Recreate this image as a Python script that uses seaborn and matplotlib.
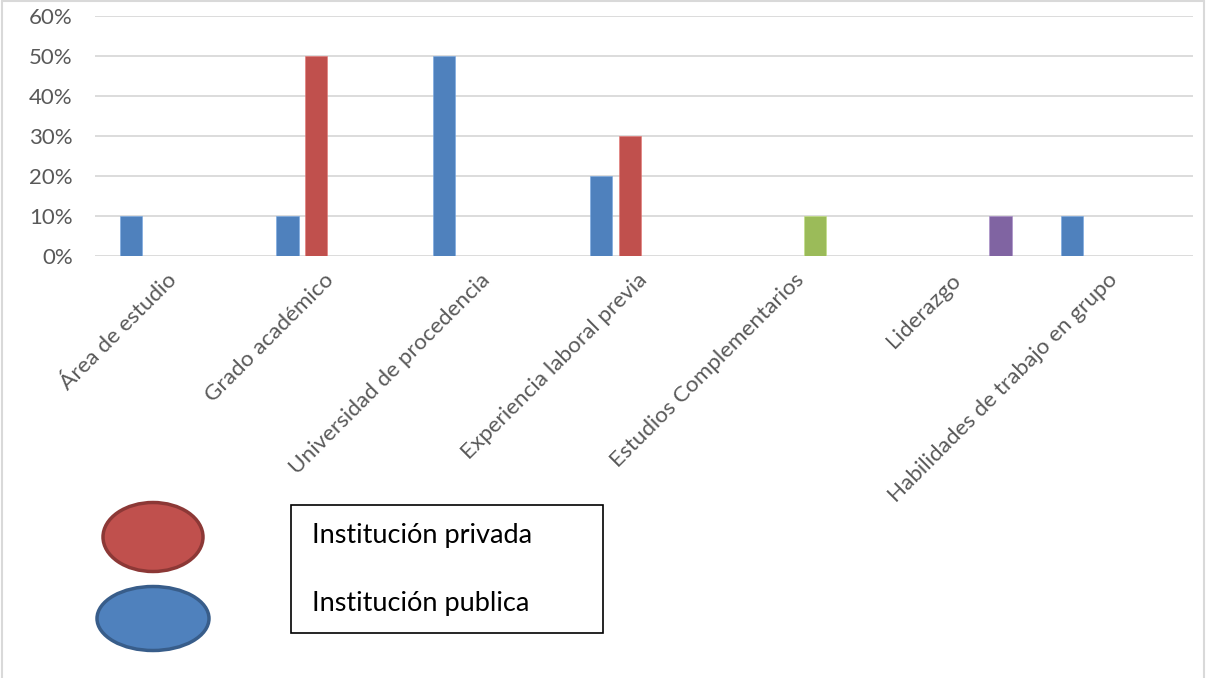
import matplotlib
matplotlib.use("Agg")
import matplotlib.pyplot as plt
from matplotlib.patches import Ellipse, Rectangle
from matplotlib.lines import Line2D
from matplotlib.ticker import PercentFormatter
import seaborn as sns
import pandas as pd
import numpy as np

categories = ["Área de estudio", "Grado académico", "Universidad de procedencia",
              "Experiencia laboral previa", "Estudios Complementarios", "Liderazgo",
              "Habilidades de trabajo en grupo"]
series_names = ["Institución publica", "Institución privada", "Serie 3", "Serie 4"]
publica = [0.10, 0.10, 0.50, 0.20, 0.0, 0.0, 0.10]
privada = [0.0, 0.50, 0.0, 0.30, 0.0, 0.0, 0.0]
serie3 = [0.0, 0.0, 0.0, 0.0, 0.10, 0.0, 0.0]
serie4 = [0.0, 0.0, 0.0, 0.0, 0.0, 0.10, 0.0]
yticks = [0.0, 0.1, 0.2, 0.3, 0.4, 0.5, 0.6]
legend_labels = ["Institución privada", "Institución publica"]

colors = ["#4F81BD", "#C0504D", "#9BBB59", "#8064A2"]

rows = []
for name, vals in zip(series_names, [publica, privada, serie3, serie4]):
    for c, v in zip(categories, vals):
        if v > 0:
            rows.append({"cat": c, "serie": name, "valor": v})
df = pd.DataFrame(rows)

sns.set_theme(style="white")
plt.rcParams["font.family"] = ["Lato", "DejaVu Sans"]

W, H = 1206, 678
fig = plt.figure(figsize=(W / 100, H / 100), dpi=100)
ax = fig.add_axes([95 / W, 1 - 256 / H, (1193 - 95) / W, (256 - 16) / H])

sns.barplot(data=df, x="cat", y="valor", hue="serie", order=categories,
            hue_order=series_names, palette=colors, width=0.727, gap=0.22,
            dodge=True, errorbar=None, legend=False, ax=ax,
            edgecolor="#FFFFFF", linewidth=0.4, saturation=1)
for p in ax.patches:
    fc = p.get_facecolor()
    p.set_edgecolor((min(1, fc[0] + 0.15), min(1, fc[1] + 0.15), min(1, fc[2] + 0.15), 1))

ax.set_xlim(-0.5, len(categories) - 0.5)
ax.set_ylim(0, 0.6)
ax.set_yticks(yticks)
ax.yaxis.set_major_formatter(PercentFormatter(1.0, decimals=0))
ax.grid(axis="y", color="#D9D9D9", linewidth=1.3)
ax.set_axisbelow(True)
for s in ax.spines.values():
    s.set_visible(False)
ax.set_xlabel("")
ax.set_ylabel("")
ax.tick_params(axis="y", length=0, pad=16, labelsize=16, labelcolor="#595959")
ax.tick_params(axis="x", length=0, pad=15, labelsize=16.2, labelcolor="#595959")
for lab in ax.get_xticklabels():
    lab.set_rotation(45)
    lab.set_ha("right")
    lab.set_va("center")
    lab.set_rotation_mode("anchor")

# outer chart border
def fx(x):
    return x / W
def fy(y):
    return 1 - y / H
fig.add_artist(Line2D([fx(2), fx(2)], [fy(678), fy(0.5)], color="#D9D9D9", lw=1.5, transform=fig.transFigure))
fig.add_artist(Line2D([fx(2), fx(1204)], [fy(0.5), fy(0.5)], color="#D9D9D9", lw=1.5, transform=fig.transFigure))
fig.add_artist(Line2D([fx(1204), fx(1204)], [fy(0.5), fy(678)], color="#D9D9D9", lw=1.5, transform=fig.transFigure))

# custom legend: ellipses + boxed text
fig.add_artist(Ellipse((fx(153), fy(537)), 100 / W, 69 / H, transform=fig.transFigure,
                       facecolor="#C0504D", edgecolor="#8C3836", lw=2.5))
fig.add_artist(Ellipse((fx(153), fy(618.5)), 112 / W, 64 / H, transform=fig.transFigure,
                       facecolor="#4F81BD", edgecolor="#385D8A", lw=2.5))
fig.add_artist(Rectangle((fx(291), fy(633)), (603 - 291) / W, (633 - 505) / H,
                         transform=fig.transFigure, facecolor="white", edgecolor="black", lw=1.2))
fig.text(fx(312), fy(535), legend_labels[0], fontsize=19.5, color="black", va="center", ha="left")
fig.text(fx(312), fy(604), legend_labels[1], fontsize=19.5, color="black", va="center", ha="left")

fig.savefig("out.png", dpi=100)
